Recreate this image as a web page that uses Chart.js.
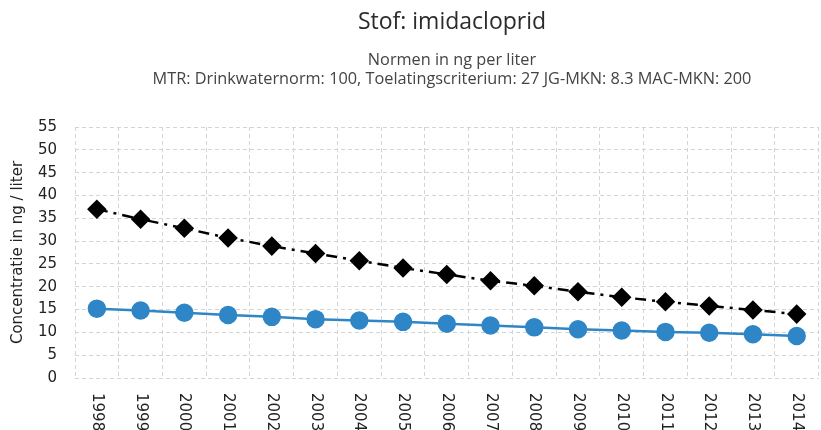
<!DOCTYPE html>
<html>
<head>
<meta charset="utf-8">
<script src="https://cdn.jsdelivr.net/npm/chart.js@4"></script>
<style>
  html, body { margin: 0; padding: 0; background: #fff; overflow: hidden; }
  #wrap { width: 830px; height: 430px; }
</style>
</head>
<body>
<div id="wrap"><canvas id="myChart" width="830" height="430"></canvas></div>
<script>
const years = ['1998', '1999', '2000', '2001', '2002', '2003', '2004', '2005', '2006',
               '2007', '2008', '2009', '2010', '2011', '2012', '2013', '2014'];
const blueValues = [15.2, 14.8, 14.3, 13.8, 13.4, 12.9, 12.6, 12.3, 11.9,
                    11.5, 11.1, 10.7, 10.4, 10.1, 9.9, 9.6, 9.2];
const blackValues = [37.0, 34.8, 32.8, 30.7, 28.9, 27.3, 25.7, 24.1, 22.7,
                     21.3, 20.2, 18.9, 17.7, 16.7, 15.8, 14.9, 14.0];
const titleText = 'Stof: imidacloprid';
const subtitleLines = ['Normen in ng per liter',
  'MTR: Drinkwaternorm: 100, Toelatingscriterium: 27 JG-MKN: 8.3 MAC-MKN: 200'];
const yTitle = 'Concentratie in ng / liter';

const tickFont = '"DejaVu Sans", Verdana, sans-serif';

// titels en gedraaide jaartallen zelf tekenen
const customText = {
  id: 'customText',
  afterDraw(chart) {
    const ctx = chart.ctx;
    ctx.save();
    ctx.textAlign = 'center';
    ctx.textBaseline = 'middle';
    ctx.fillStyle = '#2b2b2b';
    ctx.font = '23px "Open Sans", sans-serif';
    ctx.fillText(titleText, 452, 22);
    ctx.fillStyle = '#444';
    ctx.font = '16.3px "Open Sans", sans-serif';
    ctx.fillText(subtitleLines[0], 452, 60);
    ctx.fillText(subtitleLines[1], 452, 79);

    // jaartallen, van boven naar beneden gelezen
    const xScale = chart.scales.x;
    ctx.fillStyle = '#222';
    ctx.font = '15px ' + tickFont;
    ctx.textAlign = 'left';
    years.forEach((y, i) => {
      const px = xScale.getPixelForTick(i);
      ctx.save();
      ctx.translate(px, chart.chartArea.bottom + 15);
      ctx.rotate(Math.PI / 2);
      ctx.fillText(y, 0, 0);
      ctx.restore();
    });
    ctx.restore();
  }
};

const ctx = document.getElementById('myChart').getContext('2d');
new Chart(ctx, {
  type: 'line',
  data: {
    labels: years,
    datasets: [
      {
        label: 'Toelating',
        data: blackValues,
        borderColor: '#000',
        backgroundColor: '#000',
        borderWidth: 2.5,
        borderDash: [11, 6, 3, 6],
        pointStyle: 'rectRot',
        pointRadius: 8,
        pointHoverRadius: 8,
        tension: 0
      },
      {
        label: 'Meting',
        data: blueValues,
        borderColor: '#2f86c6',
        backgroundColor: '#2f86c6',
        borderWidth: 2.5,
        pointStyle: 'circle',
        pointRadius: 8,
        pointHoverRadius: 8,
        tension: 0
      }
    ]
  },
  options: {
    responsive: false,
    animation: false,
    layout: { padding: { top: 127, right: 0, left: 0, bottom: 0 } },
    plugins: {
      legend: { display: false },
      tooltip: { enabled: false }
    },
    scales: {
      x: {
        offset: true,
        grid: { offset: true, color: '#d4d4d4', tickLength: 0 },
        border: { display: false, dash: [4, 3] },
        ticks: {
          color: 'transparent',
          font: { family: tickFont, size: 15 },
          minRotation: 90,
          maxRotation: 90,
          padding: 15
        },
        afterFit(scale) { scale.height = 52; }
      },
      y: {
        min: 0,
        max: 55,
        grid: { color: '#d4d4d4', drawTicks: false },
        border: { display: false, dash: [4, 3] },
        ticks: {
          stepSize: 5,
          color: '#222',
          font: { family: tickFont, size: 15 },
          padding: 18
        },
        title: {
          display: true,
          text: yTitle,
          color: '#222',
          font: { family: tickFont, size: 15 },
          padding: { top: 9, bottom: 0 }
        },
        afterFit(scale) { scale.width = 75; }
      }
    }
  },
  plugins: [customText]
});
</script>
</body>
</html>
